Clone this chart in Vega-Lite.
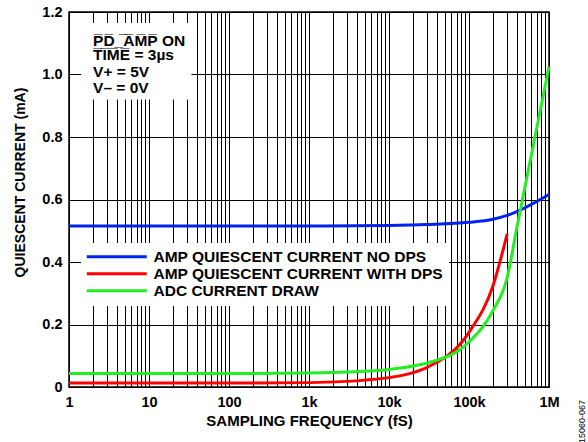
{
  "$schema": "https://vega.github.io/schema/vega-lite/v6.json",
  "width": 480,
  "height": 375,
  "autosize": "none",
  "padding": {"left": 69, "top": 12, "right": 39, "bottom": 55},
  "config": {
    "font": "Liberation Sans",
    "view": {"stroke": "black", "strokeWidth": 1.5},
    "axis": {"labelFont": "Liberation Sans", "titleFont": "Liberation Sans", "labelColor": "black", "titleColor": "black"}
  },
  "datasets": {
    "curves": [
      {"series": "AMP QUIESCENT CURRENT NO DPS", "f": 1, "current": 0.515},
      {"series": "AMP QUIESCENT CURRENT NO DPS", "f": 10, "current": 0.515},
      {"series": "AMP QUIESCENT CURRENT NO DPS", "f": 100, "current": 0.515},
      {"series": "AMP QUIESCENT CURRENT NO DPS", "f": 1000, "current": 0.515},
      {"series": "AMP QUIESCENT CURRENT NO DPS", "f": 10000, "current": 0.517},
      {"series": "AMP QUIESCENT CURRENT NO DPS", "f": 30000, "current": 0.52},
      {"series": "AMP QUIESCENT CURRENT NO DPS", "f": 100000, "current": 0.527},
      {"series": "AMP QUIESCENT CURRENT NO DPS", "f": 200000, "current": 0.537},
      {"series": "AMP QUIESCENT CURRENT NO DPS", "f": 300000, "current": 0.549},
      {"series": "AMP QUIESCENT CURRENT NO DPS", "f": 1000000, "current": 0.616},
      {"series": "AMP QUIESCENT CURRENT WITH DPS", "f": 1, "current": 0.013},
      {"series": "AMP QUIESCENT CURRENT WITH DPS", "f": 100, "current": 0.013},
      {"series": "AMP QUIESCENT CURRENT WITH DPS", "f": 1000, "current": 0.014},
      {"series": "AMP QUIESCENT CURRENT WITH DPS", "f": 3000, "current": 0.018},
      {"series": "AMP QUIESCENT CURRENT WITH DPS", "f": 5000, "current": 0.022},
      {"series": "AMP QUIESCENT CURRENT WITH DPS", "f": 10000, "current": 0.03},
      {"series": "AMP QUIESCENT CURRENT WITH DPS", "f": 20000, "current": 0.046},
      {"series": "AMP QUIESCENT CURRENT WITH DPS", "f": 30000, "current": 0.063},
      {"series": "AMP QUIESCENT CURRENT WITH DPS", "f": 100000, "current": 0.175},
      {"series": "AMP QUIESCENT CURRENT WITH DPS", "f": 200000, "current": 0.325},
      {"series": "AMP QUIESCENT CURRENT WITH DPS", "f": 300000, "current": 0.49},
      {"series": "ADC CURRENT DRAW", "f": 1, "current": 0.043},
      {"series": "ADC CURRENT DRAW", "f": 100, "current": 0.043},
      {"series": "ADC CURRENT DRAW", "f": 1000, "current": 0.045},
      {"series": "ADC CURRENT DRAW", "f": 3000, "current": 0.048},
      {"series": "ADC CURRENT DRAW", "f": 10000, "current": 0.056},
      {"series": "ADC CURRENT DRAW", "f": 20000, "current": 0.067},
      {"series": "ADC CURRENT DRAW", "f": 30000, "current": 0.077},
      {"series": "ADC CURRENT DRAW", "f": 100000, "current": 0.144},
      {"series": "ADC CURRENT DRAW", "f": 200000, "current": 0.245},
      {"series": "ADC CURRENT DRAW", "f": 300000, "current": 0.35},
      {"series": "ADC CURRENT DRAW", "f": 400000, "current": 0.515},
      {"series": "ADC CURRENT DRAW", "f": 1000000, "current": 1.025}
    ]
  },
  "layer": [
    {
      "data": {"values": [{}]},
      "mark": {"type": "rect", "fill": "white"},
      "encoding": {
        "x": {"datum": 1.42, "type": "quantitative",
          "scale": {"type": "log", "domain": [1, 1000000], "nice": false},
          "axis": {
            "values": [1,2,3,4,5,6,7,8,9,10,20,30,40,50,60,70,80,90,100,200,300,400,500,600,700,800,900,1000,2000,3000,4000,5000,6000,7000,8000,9000,10000,20000,30000,40000,50000,60000,70000,80000,90000,100000,200000,300000,400000,500000,600000,700000,800000,900000,1000000],
            "labelExpr": "datum.value == 1 ? '1' : datum.value == 10 ? '10' : datum.value == 100 ? '100' : datum.value == 1000 ? '1k' : datum.value == 10000 ? '10k' : datum.value == 100000 ? '100k' : datum.value == 1000000 ? '1M' : ''",
            "grid": true, "gridColor": "black", "gridOpacity": 1, "gridWidth": 1,
            "ticks": false, "domain": false,
            "labelFontSize": 14.5, "labelFontWeight": "bold", "labelPadding": 8,
            "labelFlush": false, "labelOverlap": false,
            "title": "SAMPLING FREQUENCY (fS)", "titleFontSize": 15, "titleFontWeight": "bold",
            "titleY": 33, "titleBaseline": "middle"
          }
        },
        "x2": {"datum": 34},
        "y": {"datum": 0.92, "type": "quantitative",
          "scale": {"domain": [0, 1.2], "nice": false},
          "axis": {
            "values": [0, 0.2, 0.4, 0.6, 0.8, 1.0, 1.2],
            "labelExpr": "datum.value == 0 ? '0' : format(datum.value, '.1f')",
            "grid": true, "gridColor": "black", "gridOpacity": 1, "gridWidth": 1.2,
            "ticks": false, "domain": false,
            "labelFontSize": 14.5, "labelFontWeight": "bold", "labelPadding": 7,
            "title": "QUIESCENT CURRENT (mA)", "titleFontSize": 14, "titleFontWeight": "bold",
            "titleX": -49, "titleY": 170, "titleBaseline": "middle"
          }
        },
        "y2": {"datum": 1.165}
      }
    },
    {
      "data": {"name": "curves"},
      "mark": {"type": "line", "strokeWidth": 3, "interpolate": "monotone"},
      "encoding": {
        "x": {"field": "f", "type": "quantitative"},
        "y": {"field": "current", "type": "quantitative",
          "axis": {"orient": "right", "labels": false, "ticks": false, "domain": false, "grid": false,
            "title": "15060-067", "titleFontSize": 9, "titleFontWeight": "normal", "titleAngle": 270,
            "titleX": 32, "titleY": 409, "titleAlign": "center", "titleBaseline": "middle"}},
        "color": {"field": "series", "type": "nominal",
          "scale": {"domain": ["AMP QUIESCENT CURRENT NO DPS", "AMP QUIESCENT CURRENT WITH DPS", "ADC CURRENT DRAW"],
            "range": ["#0022ee", "#ff0000", "#22ee22"]},
          "legend": {
            "orient": "none", "legendX": 12, "legendY": 231, "title": null,
            "fillColor": "white", "padding": 6,
            "symbolType": "M-5,0H5", "symbolSize": 144, "symbolStrokeWidth": 3, "symbolOffset": 22,
            "labelOffset": 29, "labelFontSize": 15.5, "labelFontWeight": "bold", "labelFont": "Liberation Sans",
            "labelColor": "black", "rowPadding": 0, "labelLimit": 400
          }
        }
      }
    },
    {
      "data": {"values": [{}]},
      "mark": {"type": "text", "align": "left", "baseline": "middle", "fontSize": 15.5, "fontWeight": "bold", "font": "Liberation Sans", "lineHeight": 14},
      "encoding": {
        "x": {"datum": 2, "type": "quantitative"},
        "y": {"datum": 1.107, "type": "quantitative", "axis": null},
        "text": {"value": ["P̅D̅_̅A̅M̅P̅ ON", "T̅I̅M̅E̅ = 3µs"]}
      }
    },
    {
      "data": {"values": [{}]},
      "mark": {"type": "text", "align": "left", "baseline": "middle", "fontSize": 15.5, "fontWeight": "bold", "font": "Liberation Sans", "lineHeight": 15.5},
      "encoding": {
        "x": {"datum": 2, "type": "quantitative"},
        "y": {"datum": 1.008, "type": "quantitative", "axis": null},
        "text": {"value": ["V+  = 5V", "V–  = 0V"]}
      }
    }
  ],
  "resolve": {"axis": {"y": "independent"}}
}
